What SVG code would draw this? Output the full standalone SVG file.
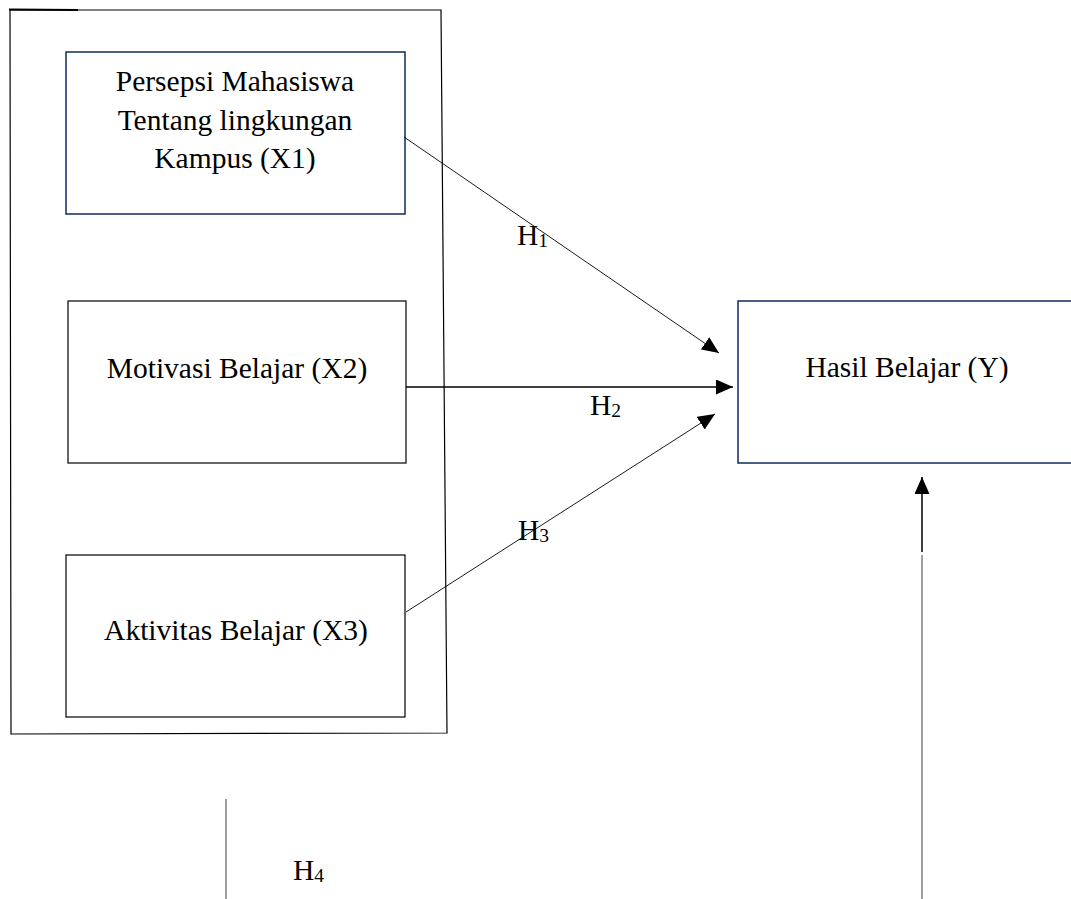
<svg xmlns="http://www.w3.org/2000/svg" width="1071" height="899" viewBox="0 0 1071 899">
<style>
text{font-family:"Liberation Serif","Times New Roman",serif;font-size:29.5px;fill:#000}
.c{text-anchor:middle}
.navy{fill:#fff;stroke:#102a5e;stroke-width:1.5}
.blk{fill:#fff;stroke:#000;stroke-width:1.2}
.ln{stroke:#000;fill:none}
.gray{stroke:#808080;stroke-width:1.5;fill:none}
.sub{font-size:19.5px}
</style>
<defs>
<marker id="ah" markerWidth="17" markerHeight="15" refX="17" refY="7.5" orient="auto" markerUnits="userSpaceOnUse">
<path d="M0,0 L17,7.5 L0,15 z" fill="#000"/>
</marker>
</defs>
<g id="frame">
<polygon points="10,10 441,10 447,733 11,734" fill="#fff" stroke="#000" stroke-width="1.2"/>
<line x1="9" y1="9.5" x2="78" y2="10" stroke="#000" stroke-width="1.8"/>
</g>
<g id="node-x1">
<rect class="navy" x="66" y="52" width="339" height="162"/>
<text class="c" x="235" y="91">Persepsi Mahasiswa</text>
<text class="c" x="235" y="130">Tentang lingkungan</text>
<text class="c" x="235" y="168">Kampus (X1)</text>
</g>
<g id="node-x2">
<rect class="blk" x="68" y="301" width="338" height="162"/>
<text class="c" x="237" y="378">Motivasi Belajar (X2)</text>
</g>
<g id="node-x3">
<rect class="blk" x="66" y="555" width="339" height="162"/>
<text class="c" x="236" y="640">Aktivitas Belajar (X3)</text>
</g>
<g id="node-y">
<path class="navy" d="M1075,301 L738,301 L738,463 L1075,463"/>
<text class="c" x="907" y="377">Hasil Belajar (Y)</text>
</g>
<g id="connectors">
<line class="ln" x1="404" y1="137" x2="719" y2="353" stroke-width="0.9" marker-end="url(#ah)"/>
<line class="ln" x1="406" y1="387" x2="733" y2="387" stroke-width="1.6" marker-end="url(#ah)"/>
<line class="ln" x1="406" y1="612" x2="715" y2="414" stroke-width="0.9" marker-end="url(#ah)"/>
<line class="ln" x1="922" y1="552" x2="922" y2="477" stroke-width="1.5" marker-end="url(#ah)"/>
<line class="gray" x1="922" y1="555" x2="922" y2="899"/>
<line class="gray" x1="226" y1="799" x2="226" y2="899"/>
</g>
<g id="labels">
<text x="517" y="245">H<tspan class="sub" dy="2">1</tspan></text>
<text x="590" y="415">H<tspan class="sub" dy="2">2</tspan></text>
<text x="518" y="540">H<tspan class="sub" dy="2">3</tspan></text>
<text x="293" y="880">H<tspan class="sub" dy="2">4</tspan></text>
</g>
</svg>
